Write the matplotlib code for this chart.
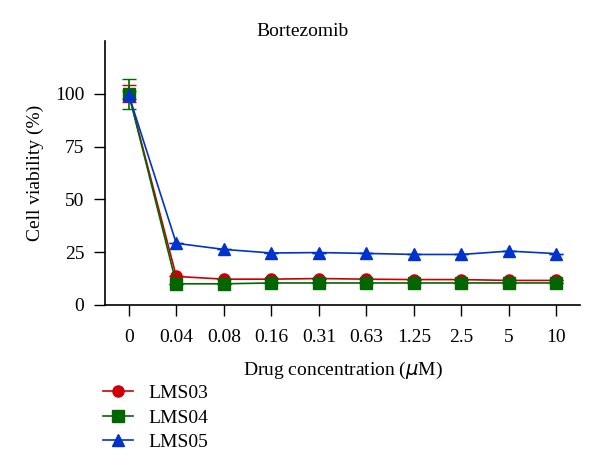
import matplotlib

matplotlib.use("Agg")
import matplotlib.pyplot as plt
from matplotlib.lines import Line2D
import numpy as np

plt.rcParams["font.family"] = ["Liberation Serif", "DejaVu Serif"]

DOSES = ["0", "0.04", "0.08", "0.16", "0.31", "0.63", "1.25", "2.5", "5", "10"]
LMS03 = [100, 13.5, 12.2, 12.2, 12.5, 12.2, 12.0, 12.0, 11.6, 11.6]
LMS04 = [100, 10.0, 10.0, 10.4, 10.4, 10.4, 10.4, 10.4, 10.4, 10.4]
LMS05 = [99.5, 29.2, 26.3, 24.6, 24.8, 24.4, 23.9, 23.9, 25.5, 24.3]
ERR03 = [4, 0, 0, 0, 0, 0, 0, 0, 0, 0]
ERR04 = [7, 0, 0, 0, 0, 0, 0, 0, 0, 0]
ERR05 = [2, 0, 0, 0, 0, 0, 0, 0, 0, 0]

SERIES = [
    ("LMS03", LMS03, ERR03, "#cc0000", "o"),
    ("LMS04", LMS04, ERR04, "#006600", "s"),
    ("LMS05", LMS05, ERR05, "#0033cc", "^"),
]

FS = 14

fig = plt.figure(figsize=(6, 4.72), dpi=100)
ax = fig.add_axes([0.175, 0.354, 0.792, 0.559])

x = np.arange(len(DOSES))
handles = []
for name, vals, err, col, mk in SERIES:
    ax.errorbar(x, vals, yerr=err, color=col, marker=mk, markersize=8,
                lw=1.2, capsize=5, elinewidth=1.2)
    handles.append(Line2D([], [], color=col, marker=mk, markersize=8, lw=1.2))

ax.set_xlim(-0.5, 9.5)
ax.set_ylim(0, 125)
ax.set_xticks(x)
ax.set_xticklabels(DOSES)
ax.set_yticks([0, 25, 50, 75, 100])
ax.spines["top"].set_visible(False)
ax.spines["right"].set_visible(False)
ax.spines["left"].set_linewidth(1.2)
ax.spines["bottom"].set_linewidth(1.2)
ax.tick_params(direction="out", length=8, width=1, labelsize=FS, pad=7)
ax.tick_params(axis="x", pad=9)
ax.set_ylabel("Cell viability (%)", fontsize=FS, labelpad=8)
ax.set_xlabel("Drug concentration ($\\mu$M)", fontsize=FS, labelpad=10)
fig.text(0.505, 0.934, "Bortezomib", ha="center", va="center", fontsize=FS)

fig.legend(handles=handles, labels=[s[0] for s in SERIES],
           loc="upper left", bbox_to_anchor=(0.172, 0.185),
           borderaxespad=0, borderpad=0,
           frameon=False, fontsize=FS, handlelength=1.55,
           handletextpad=0.75, labelspacing=0.35)

fig.savefig("out.png", dpi=100)
